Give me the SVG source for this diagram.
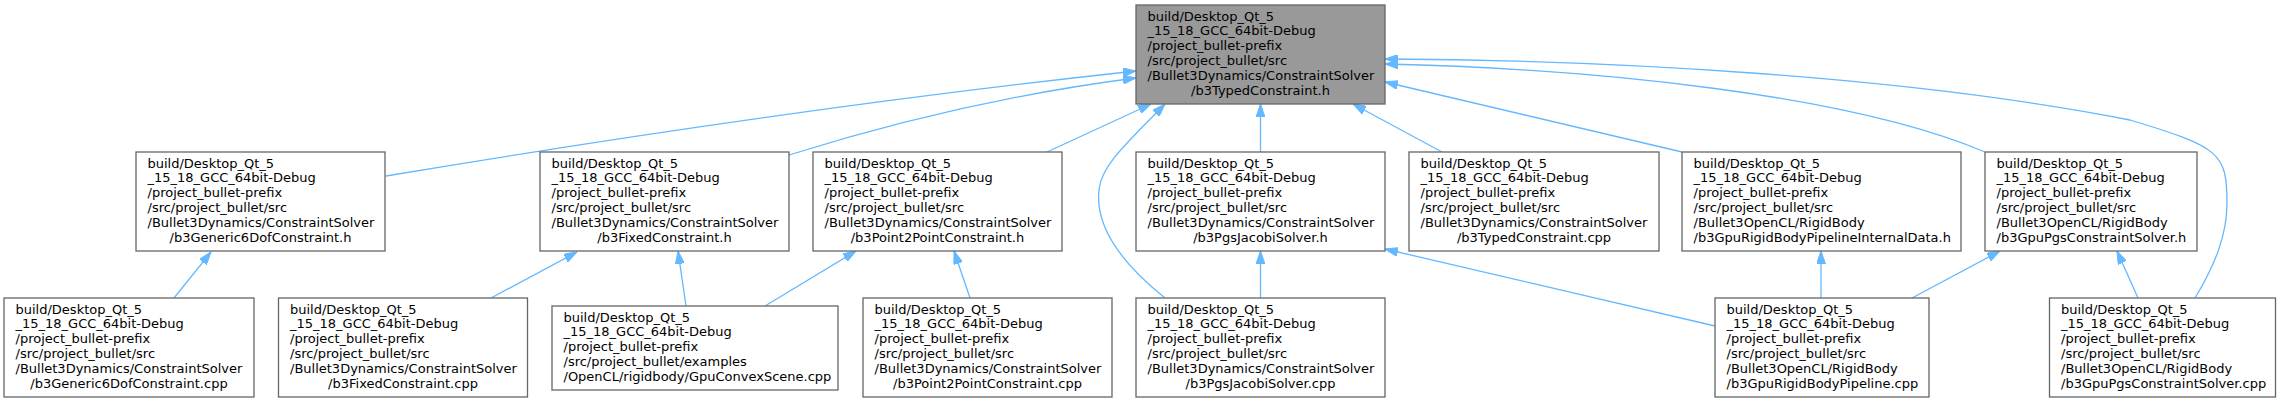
<svg xmlns="http://www.w3.org/2000/svg" width="2280" height="403" viewBox="0 0 2280 403">
<style>
.n rect{fill:#ffffff;stroke:#666666;stroke-width:1.3}
.root rect{fill:#999999}
text{font-family:"DejaVu Sans","Noto Sans",sans-serif;font-size:13px;fill:#000000}
.c{text-anchor:middle}
#edges path{fill:none;stroke:#63b8ff;stroke-width:1.3;marker-end:url(#arr)}
</style>
<defs>
<marker id="arr" viewBox="0 0 13 9" refX="13" refY="4.5" markerWidth="13" markerHeight="9" markerUnits="userSpaceOnUse" orient="auto">
<path d="M0,0 L13,4.5 L0,9 z" fill="#63b8ff" stroke="#63b8ff" stroke-width="1"/>
</marker>
</defs>
<rect width="2280" height="403" fill="#ffffff"/>
<g id="edges">
<path d="M386,176 C560,147 850,102 1136,71"/>
<path d="M789,155 C875,128 995,96 1136,78"/>
<path d="M1047,152 L1151,104"/>
<path d="M1165,298 C1120,262 1095,225 1099,190 C1101,165 1130,140 1165,104"/>
<path d="M1260.5,152 L1260.5,104"/>
<path d="M1442,152 L1353,104"/>
<path d="M1682,152 L1385,82"/>
<path d="M1985,152 C1850,95 1600,69 1385,64"/>
<path d="M2195,298 C2215,265 2227,235 2227,203 C2227,153 2220,147 2130,120 C1900,75 1600,60 1385,59"/>
<path d="M174,298 L211,252"/>
<path d="M491,298 L577,252"/>
<path d="M686,306 L678,251"/>
<path d="M765,306 L856,251"/>
<path d="M970,298 L954,251"/>
<path d="M1260.5,298 L1260.5,251"/>
<path d="M1715,326 L1385,249"/>
<path d="M1821,298 L1821,251"/>
<path d="M1912,298 L2000,251"/>
<path d="M2138,298 L2117,251"/>
</g>
<g id="n0" class="n root">
<rect x="1136" y="5" width="249" height="99"/>
<text><tspan x="1147.5" y="20.6">build/Desktop_Qt_5</tspan><tspan x="1147.5" y="35.4">_15_18_GCC_64bit-Debug</tspan><tspan x="1147.5" y="50.2">/project_bullet-prefix</tspan><tspan x="1147.5" y="65">/src/project_bullet/src</tspan><tspan x="1147.5" y="79.8">/Bullet3Dynamics/ConstraintSolver</tspan><tspan class="c" x="1260.5" y="94.6">/b3TypedConstraint.h</tspan></text>
</g>
<g id="n1" class="n">
<rect x="136" y="152" width="249" height="99"/>
<text><tspan x="147.5" y="167.6">build/Desktop_Qt_5</tspan><tspan x="147.5" y="182.4">_15_18_GCC_64bit-Debug</tspan><tspan x="147.5" y="197.2">/project_bullet-prefix</tspan><tspan x="147.5" y="212">/src/project_bullet/src</tspan><tspan x="147.5" y="226.8">/Bullet3Dynamics/ConstraintSolver</tspan><tspan class="c" x="260.5" y="241.6">/b3Generic6DofConstraint.h</tspan></text>
</g>
<g id="n2" class="n">
<rect x="540" y="152" width="249" height="99"/>
<text><tspan x="551.5" y="167.6">build/Desktop_Qt_5</tspan><tspan x="551.5" y="182.4">_15_18_GCC_64bit-Debug</tspan><tspan x="551.5" y="197.2">/project_bullet-prefix</tspan><tspan x="551.5" y="212">/src/project_bullet/src</tspan><tspan x="551.5" y="226.8">/Bullet3Dynamics/ConstraintSolver</tspan><tspan class="c" x="664.5" y="241.6">/b3FixedConstraint.h</tspan></text>
</g>
<g id="n3" class="n">
<rect x="813" y="152" width="249" height="99"/>
<text><tspan x="824.5" y="167.6">build/Desktop_Qt_5</tspan><tspan x="824.5" y="182.4">_15_18_GCC_64bit-Debug</tspan><tspan x="824.5" y="197.2">/project_bullet-prefix</tspan><tspan x="824.5" y="212">/src/project_bullet/src</tspan><tspan x="824.5" y="226.8">/Bullet3Dynamics/ConstraintSolver</tspan><tspan class="c" x="937.5" y="241.6">/b3Point2PointConstraint.h</tspan></text>
</g>
<g id="n4" class="n">
<rect x="1136" y="152" width="249" height="99"/>
<text><tspan x="1147.5" y="167.6">build/Desktop_Qt_5</tspan><tspan x="1147.5" y="182.4">_15_18_GCC_64bit-Debug</tspan><tspan x="1147.5" y="197.2">/project_bullet-prefix</tspan><tspan x="1147.5" y="212">/src/project_bullet/src</tspan><tspan x="1147.5" y="226.8">/Bullet3Dynamics/ConstraintSolver</tspan><tspan class="c" x="1260.5" y="241.6">/b3PgsJacobiSolver.h</tspan></text>
</g>
<g id="n5" class="n">
<rect x="1409" y="152" width="250" height="99"/>
<text><tspan x="1420.5" y="167.6">build/Desktop_Qt_5</tspan><tspan x="1420.5" y="182.4">_15_18_GCC_64bit-Debug</tspan><tspan x="1420.5" y="197.2">/project_bullet-prefix</tspan><tspan x="1420.5" y="212">/src/project_bullet/src</tspan><tspan x="1420.5" y="226.8">/Bullet3Dynamics/ConstraintSolver</tspan><tspan class="c" x="1534" y="241.6">/b3TypedConstraint.cpp</tspan></text>
</g>
<g id="n6" class="n">
<rect x="1682" y="152" width="279" height="99"/>
<text><tspan x="1693.5" y="167.6">build/Desktop_Qt_5</tspan><tspan x="1693.5" y="182.4">_15_18_GCC_64bit-Debug</tspan><tspan x="1693.5" y="197.2">/project_bullet-prefix</tspan><tspan x="1693.5" y="212">/src/project_bullet/src</tspan><tspan x="1693.5" y="226.8">/Bullet3OpenCL/RigidBody</tspan><tspan x="1693.5" y="241.6">/b3GpuRigidBodyPipelineInternalData.h</tspan></text>
</g>
<g id="n7" class="n">
<rect x="1985" y="152" width="212" height="99"/>
<text><tspan x="1996.5" y="167.6">build/Desktop_Qt_5</tspan><tspan x="1996.5" y="182.4">_15_18_GCC_64bit-Debug</tspan><tspan x="1996.5" y="197.2">/project_bullet-prefix</tspan><tspan x="1996.5" y="212">/src/project_bullet/src</tspan><tspan x="1996.5" y="226.8">/Bullet3OpenCL/RigidBody</tspan><tspan x="1996.5" y="241.6">/b3GpuPgsConstraintSolver.h</tspan></text>
</g>
<g id="n8" class="n">
<rect x="4" y="298" width="250" height="99"/>
<text><tspan x="15.5" y="313.6">build/Desktop_Qt_5</tspan><tspan x="15.5" y="328.4">_15_18_GCC_64bit-Debug</tspan><tspan x="15.5" y="343.2">/project_bullet-prefix</tspan><tspan x="15.5" y="358">/src/project_bullet/src</tspan><tspan x="15.5" y="372.8">/Bullet3Dynamics/ConstraintSolver</tspan><tspan class="c" x="129" y="387.6">/b3Generic6DofConstraint.cpp</tspan></text>
</g>
<g id="n9" class="n">
<rect x="278.5" y="298" width="249" height="99"/>
<text><tspan x="290" y="313.6">build/Desktop_Qt_5</tspan><tspan x="290" y="328.4">_15_18_GCC_64bit-Debug</tspan><tspan x="290" y="343.2">/project_bullet-prefix</tspan><tspan x="290" y="358">/src/project_bullet/src</tspan><tspan x="290" y="372.8">/Bullet3Dynamics/ConstraintSolver</tspan><tspan class="c" x="403" y="387.6">/b3FixedConstraint.cpp</tspan></text>
</g>
<g id="n10" class="n">
<rect x="552" y="306" width="286" height="84"/>
<text><tspan x="563.5" y="321.6">build/Desktop_Qt_5</tspan><tspan x="563.5" y="336.4">_15_18_GCC_64bit-Debug</tspan><tspan x="563.5" y="351.2">/project_bullet-prefix</tspan><tspan x="563.5" y="366">/src/project_bullet/examples</tspan><tspan x="563.5" y="380.8">/OpenCL/rigidbody/GpuConvexScene.cpp</tspan></text>
</g>
<g id="n11" class="n">
<rect x="863" y="298" width="249" height="99"/>
<text><tspan x="874.5" y="313.6">build/Desktop_Qt_5</tspan><tspan x="874.5" y="328.4">_15_18_GCC_64bit-Debug</tspan><tspan x="874.5" y="343.2">/project_bullet-prefix</tspan><tspan x="874.5" y="358">/src/project_bullet/src</tspan><tspan x="874.5" y="372.8">/Bullet3Dynamics/ConstraintSolver</tspan><tspan class="c" x="987.5" y="387.6">/b3Point2PointConstraint.cpp</tspan></text>
</g>
<g id="n12" class="n">
<rect x="1136" y="298" width="249" height="99"/>
<text><tspan x="1147.5" y="313.6">build/Desktop_Qt_5</tspan><tspan x="1147.5" y="328.4">_15_18_GCC_64bit-Debug</tspan><tspan x="1147.5" y="343.2">/project_bullet-prefix</tspan><tspan x="1147.5" y="358">/src/project_bullet/src</tspan><tspan x="1147.5" y="372.8">/Bullet3Dynamics/ConstraintSolver</tspan><tspan class="c" x="1260.5" y="387.6">/b3PgsJacobiSolver.cpp</tspan></text>
</g>
<g id="n13" class="n">
<rect x="1715" y="298" width="214" height="99"/>
<text><tspan x="1726.5" y="313.6">build/Desktop_Qt_5</tspan><tspan x="1726.5" y="328.4">_15_18_GCC_64bit-Debug</tspan><tspan x="1726.5" y="343.2">/project_bullet-prefix</tspan><tspan x="1726.5" y="358">/src/project_bullet/src</tspan><tspan x="1726.5" y="372.8">/Bullet3OpenCL/RigidBody</tspan><tspan x="1726.5" y="387.6">/b3GpuRigidBodyPipeline.cpp</tspan></text>
</g>
<g id="n14" class="n">
<rect x="2049.5" y="298" width="226" height="99"/>
<text><tspan x="2061" y="313.6">build/Desktop_Qt_5</tspan><tspan x="2061" y="328.4">_15_18_GCC_64bit-Debug</tspan><tspan x="2061" y="343.2">/project_bullet-prefix</tspan><tspan x="2061" y="358">/src/project_bullet/src</tspan><tspan x="2061" y="372.8">/Bullet3OpenCL/RigidBody</tspan><tspan x="2061" y="387.6">/b3GpuPgsConstraintSolver.cpp</tspan></text>
</g>
</svg>
